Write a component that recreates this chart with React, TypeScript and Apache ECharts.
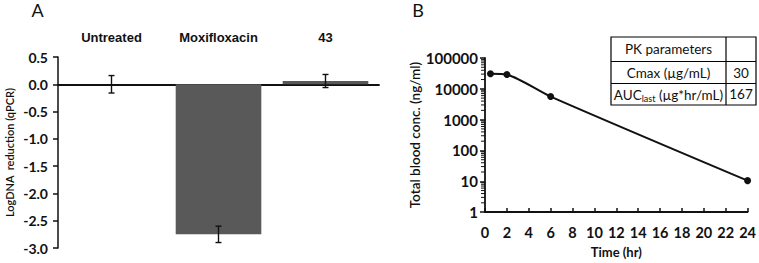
import React, { useEffect, useRef } from "react";
import * as echarts from "echarts";

const treatments = ["Untreated", "Moxifloxacin", "43"];
const logReduction = [0, -2.75, 0.06];
const logReductionErr = [0.16, 0.15, 0.12];

const timeHr = [0.5, 2, 6, 24];
const bloodConc = [31000, 29000, 5600, 10.5];

const pkRows = [
  ["PK parameters", ""],
  ["Cmax (µg/mL)", "30"],
  ["AUC_last (µg*hr/mL)", "167"],
];

// decades and multipliers for the log-axis minor ticks (axis decoration)
const decades = [1, 10, 100, 1000, 10000];
const minorMultipliers = [2, 3, 4, 5, 6, 7, 8, 9];

const FONT = "Lato, 'Open Sans', sans-serif";

export default function App() {
  const ref = useRef<HTMLDivElement>(null);
  useEffect(() => {
    if (!ref.current) return;
    const chart = echarts.init(ref.current, null, { renderer: "svg" });

    const errData = treatments.map((_, i) => [
      i,
      logReduction[i] - logReductionErr[i],
      logReduction[i] + logReductionErr[i],
    ]);

    const minorTickVals: number[][] = [];
    decades.forEach((d) => minorMultipliers.forEach((m) => minorTickVals.push([0, d * m])));

    // table geometry
    const tx0 = 611, tx1 = 726, tx2 = 756;
    const ty = [37, 61.5, 83.5, 105];
    const tableEls: any[] = [];
    tableEls.push({
      type: "rect",
      shape: { x: tx0, y: ty[0], width: tx2 - tx0, height: ty[3] - ty[0] },
      style: { fill: "#fff", stroke: "#000", lineWidth: 1.2 },
    });
    tableEls.push({ type: "line", shape: { x1: tx1, y1: ty[0], x2: tx1, y2: ty[3] }, style: { stroke: "#000", lineWidth: 1.2 } });
    tableEls.push({ type: "line", shape: { x1: tx0, y1: ty[1], x2: tx2, y2: ty[1] }, style: { stroke: "#000", lineWidth: 1.2 } });
    tableEls.push({ type: "line", shape: { x1: tx0, y1: ty[2], x2: tx2, y2: ty[2] }, style: { stroke: "#000", lineWidth: 1.2 } });
    pkRows.forEach((row, r) => {
      const cy = (ty[r] + ty[r + 1]) / 2;
      const label = row[0];
      let textStyle: any;
      if (label.indexOf("_") >= 0) {
        const [base, rest] = label.split("_");
        const sub = rest.split(" ")[0];
        const tail = rest.slice(sub.length);
        textStyle = {
          text: `{a|${base}}{s|${sub}}{a|${tail}}`,
          rich: {
            a: { fontSize: 13.5, fontFamily: FONT, fill: "#111", lineHeight: 16 },
            s: { fontSize: 9, fontFamily: FONT, fill: "#111", lineHeight: 10, verticalAlign: "bottom" },
          },
          x: (tx0 + tx1) / 2,
          y: cy + 1,
          align: "center",
          verticalAlign: "middle",
        };
      } else {
        textStyle = {
          text: label,
          x: (tx0 + tx1) / 2,
          y: cy,
          align: "center",
          verticalAlign: "middle",
          fontSize: 13.5,
          fontFamily: FONT,
          fill: "#111",
        };
      }
      tableEls.push({ type: "text", style: textStyle });
      if (row[1]) {
        tableEls.push({
          type: "text",
          style: {
            text: row[1],
            x: (tx1 + tx2) / 2,
            y: cy,
            align: "center",
            verticalAlign: "middle",
            fontSize: 13.5,
            fontFamily: FONT,
            fill: "#111",
          },
        });
      }
    });

    const option: any = {
      animation: false,
      backgroundColor: "#fff",
      textStyle: { fontFamily: FONT, color: "#111" },
      grid: [
        { left: 58, top: 57, width: 321, height: 191 },
        { left: 485, top: 58, width: 266, height: 163 },
      ],
      xAxis: [
        {
          type: "category",
          gridIndex: 0,
          data: treatments,
          axisLine: { onZero: true, lineStyle: { color: "#111", width: 1.8 } },
          axisTick: { show: false },
          axisLabel: { show: false },
        },
        {
          type: "category",
          gridIndex: 0,
          position: "top",
          data: treatments,
          axisLine: { show: false, onZero: false },
          axisTick: { show: false },
          axisLabel: {
            show: true,
            margin: 13,
            fontSize: 13,
            fontWeight: "bold",
            fontFamily: "'Liberation Sans', Arial, sans-serif",
            color: "#111",
          },
        },
        {
          type: "value",
          gridIndex: 1,
          min: 0,
          max: 24,
          interval: 2,
          axisLine: { onZero: false, lineStyle: { color: "#111", width: 1.8 } },
          axisTick: { inside: true, length: 4, lineStyle: { color: "#111", width: 1.5 } },
          axisLabel: { margin: 13, fontSize: 14.5, fontWeight: "bold", color: "#111", fontFamily: FONT },
          splitLine: { show: false },
          name: "Time (hr)",
          nameLocation: "middle",
          nameGap: 31,
          nameTextStyle: { fontSize: 13, fontWeight: "bold", color: "#111", fontFamily: FONT },
        },
      ],
      yAxis: [
        {
          type: "value",
          gridIndex: 0,
          min: -3,
          max: 0.5,
          interval: 0.5,
          axisLine: { show: true, lineStyle: { color: "#111", width: 1.5 } },
          axisTick: { show: true, length: 5, lineStyle: { color: "#111", width: 1.5 } },
          axisLabel: {
            margin: 10,
            fontSize: 14,
            fontWeight: "bold",
            color: "#111",
            fontFamily: FONT,
            formatter: (v: number) => v.toFixed(1),
          },
          splitLine: { show: false },
          name: "LogDNA  reduction (qPCR)",
          nameLocation: "middle",
          nameGap: 43,
          nameTextStyle: { fontSize: 11, fontWeight: 600, color: "#111", fontFamily: FONT },
        },
        {
          type: "log",
          logBase: 10,
          gridIndex: 1,
          min: 1,
          max: 100000,
          axisLine: { show: true, lineStyle: { color: "#111", width: 1.8 } },
          axisTick: { show: true, length: 5, lineStyle: { color: "#111", width: 1.5 } },
          axisLabel: {
            margin: 7,
            fontSize: 15,
            fontWeight: "bold",
            color: "#111",
            fontFamily: FONT,
            formatter: (v: number) => String(Math.round(v)),
          },
          splitLine: { show: false },
          name: "Total blood conc. (ng/ml)",
          nameLocation: "middle",
          nameGap: 50,
          nameTextStyle: { fontSize: 13.5, fontWeight: 600, color: "#111", fontFamily: FONT },
        },
      ],
      series: [
        {
          type: "bar",
          xAxisIndex: 0,
          yAxisIndex: 0,
          data: logReduction,
          barWidth: "80%",
          itemStyle: { color: "#595959" },
          z: 2,
        },
        {
          type: "custom",
          xAxisIndex: 0,
          yAxisIndex: 0,
          data: errData,
          z: 5,
          renderItem: (params: any, api: any) => {
            const x = api.value(0);
            const lo = api.coord([x, api.value(1)]);
            const hi = api.coord([x, api.value(2)]);
            const hw = 3;
            const st = { stroke: "#111", lineWidth: 1.4 };
            return {
              type: "group",
              children: [
                { type: "line", shape: { x1: lo[0], y1: lo[1], x2: hi[0], y2: hi[1] }, style: st },
                { type: "line", shape: { x1: lo[0] - hw, y1: lo[1], x2: lo[0] + hw, y2: lo[1] }, style: st },
                { type: "line", shape: { x1: hi[0] - hw, y1: hi[1], x2: hi[0] + hw, y2: hi[1] }, style: st },
              ],
            };
          },
        },
        {
          type: "custom",
          coordinateSystem: "cartesian2d",
          xAxisIndex: 2,
          yAxisIndex: 1,
          data: minorTickVals,
          silent: true,
          clip: false,
          z: 10,
          renderItem: (params: any, api: any) => {
            const p = api.coord([api.value(0), api.value(1)]);
            return {
              type: "line",
              shape: { x1: p[0] - 4, y1: p[1], x2: p[0], y2: p[1] },
              style: { stroke: "#111", lineWidth: 1 },
            };
          },
        },
        {
          type: "line",
          xAxisIndex: 2,
          yAxisIndex: 1,
          data: timeHr.map((t, i) => [t, bloodConc[i]]),
          smooth: 0.25,
          symbol: "circle",
          symbolSize: 7,
          lineStyle: { color: "#111", width: 2 },
          itemStyle: { color: "#111" },
          z: 3,
        },
      ],
      graphic: [
        {
          type: "text",
          style: { text: "A", x: 37.5, y: 10, align: "center", verticalAlign: "middle", fontSize: 18, fontFamily: FONT, fill: "#111" },
        },
        {
          type: "text",
          style: { text: "B", x: 418, y: 10, align: "center", verticalAlign: "middle", fontSize: 18, fontFamily: FONT, fill: "#111" },
        },
        ...tableEls,
      ],
    };
    chart.setOption(option);
    return () => chart.dispose();
  }, []);
  return (
    <div
      ref={ref}
      style={{ position: "fixed", left: 0, top: 0, width: 759, height: 263 }}
    />
  );
}
